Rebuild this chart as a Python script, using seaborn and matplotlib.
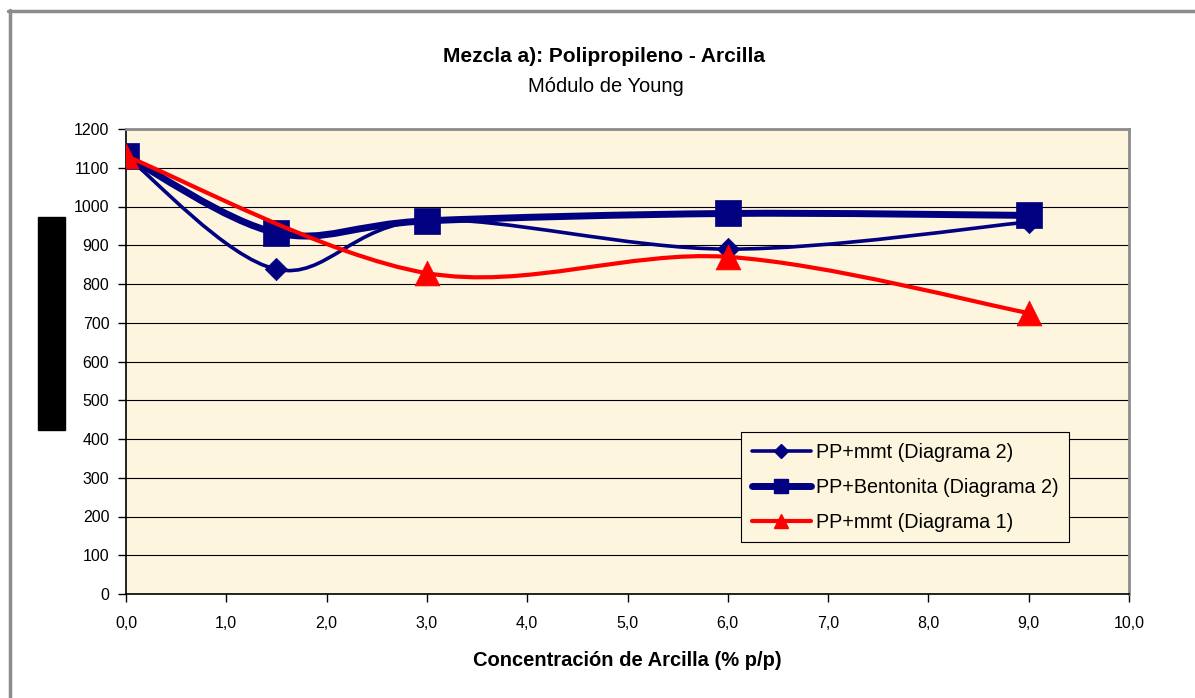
import matplotlib
matplotlib.use('Agg')

import matplotlib.pyplot as plt
import seaborn as sns
import pandas as pd
from matplotlib.path import Path
from matplotlib.patches import PathPatch, Rectangle
from matplotlib.lines import Line2D

# Data
x_mmt2 = [0.0, 1.5, 3.0, 6.0, 9.0]
y_mmt2 = [1130, 838, 965, 890, 960]

x_bent2 = [0.0, 1.5, 3.0, 6.0, 9.0]
y_bent2 = [1130, 932, 963, 982, 977]

x_mmt1 = [0.0, 3.0, 6.0, 9.0]
y_mmt1 = [1130, 828, 870, 725]

labels = ["PP+mmt (Diagrama 2)", "PP+Bentonita (Diagrama 2)", "PP+mmt (Diagrama 1)"]
x_ticks = [0, 1, 2, 3, 4, 5, 6, 7, 8, 9, 10]
x_ticklabels = ["0,0", "1,0", "2,0", "3,0", "4,0", "5,0", "6,0", "7,0", "8,0", "9,0", "10,0"]
y_ticks = list(range(0, 1300, 100))

navy = "#000080"
red = "#FF0000"
bg = "#FDF5DE"

sns.set_style("white")
plt.rcParams['font.family'] = ['Liberation Sans', 'DejaVu Sans']
plt.rcParams['text.color'] = 'black'
plt.rcParams['axes.labelcolor'] = 'black'


def smooth_path(xs, ys):
    # Excel-style smoothed line: cubic Bezier segments through the points
    pts = list(zip(xs, ys))
    verts = [pts[0]]
    codes = [Path.MOVETO]
    n = len(pts)
    for i in range(n - 1):
        p0 = pts[i - 1] if i > 0 else pts[i]
        p1 = pts[i]
        p2 = pts[i + 1]
        p3 = pts[i + 2] if i + 2 < n else pts[i + 1]
        c1 = (p1[0] + (p2[0] - p0[0]) / 6, p1[1] + (p2[1] - p0[1]) / 6)
        c2 = (p2[0] - (p3[0] - p1[0]) / 6, p2[1] - (p3[1] - p1[1]) / 6)
        verts += [c1, c2, p2]
        codes += [Path.CURVE4] * 3
    return Path(verts, codes)


fig = plt.figure(figsize=(11.95, 6.98), dpi=100)
ax = fig.add_axes([126 / 1195, 1 - 594 / 698, 1003 / 1195, 465 / 698])
ax.set_facecolor(bg)

series = [
    (x_mmt2, y_mmt2, navy, 2.6, "D", 130),
    (x_bent2, y_bent2, navy, 5.0, "s", 370),
    (x_mmt1, y_mmt1, red, 3.0, "^", 320),
]

for i, (xs, ys, col, lw, mk, ms) in enumerate(series):
    ax.add_patch(PathPatch(smooth_path(xs, ys), fill=False, edgecolor=col,
                           lw=lw, zorder=3 + 2 * i, capstyle='round', joinstyle='round'))
    df = pd.DataFrame({"x": xs, "y": ys})
    sns.scatterplot(data=df, x="x", y="y", ax=ax, color=col, marker=mk, s=ms,
                    edgecolor=col, linewidth=0.5, zorder=4 + 2 * i, legend=False)

ax.set_xlim(0, 10)
ax.set_ylim(0, 1200)
ax.set_xticks(x_ticks)
ax.set_xticklabels(x_ticklabels)
ax.set_yticks(y_ticks)
ax.yaxis.grid(True, color="black", lw=0.8)
ax.set_axisbelow(True)
ax.tick_params(axis="both", direction="out", length=6, width=1, color="black",
               labelsize=11.5, labelcolor="black")
ax.tick_params(axis="y", pad=6, left=True)
ax.tick_params(axis="x", pad=10, bottom=True)

for side in ["left", "bottom"]:
    ax.spines[side].set_color("black")
    ax.spines[side].set_linewidth(1.2)
for side in ["top", "right"]:
    ax.spines[side].set_color("#8C8C8C")
    ax.spines[side].set_linewidth(2)

ax.set_xlabel("Concentración de Arcilla (% p/p)", fontsize=14.5, fontweight="bold",
              labelpad=14, color="black")
ax.set_ylabel("")

handles = [
    Line2D([], [], color=navy, lw=2.6, marker="D", markersize=7),
    Line2D([], [], color=navy, lw=5.0, marker="s", markersize=10),
    Line2D([], [], color=red, lw=3.0, marker="^", markersize=10),
]
leg = ax.legend(handles, labels, loc="upper left", bbox_to_anchor=(0.613, 0.348),
                borderaxespad=0, fontsize=14.2, frameon=True, fancybox=False,
                edgecolor="black", facecolor=bg, framealpha=1, handlelength=3.0,
                handletextpad=0.25, labelspacing=0.8, borderpad=0.55, labelcolor="black")
leg.get_frame().set_linewidth(0.8)
leg.set_zorder(20)

fig.text(604 / 1195, 1 - 57 / 698, "Mezcla a): Polipropileno - Arcilla", ha="center",
         va="center", fontsize=15, fontweight="bold", color="black")
fig.text(606 / 1195, 1 - 87 / 698, "Módulo de Young", ha="center", va="center",
         fontsize=14.5, color="black")

# obscured y-axis label block
fig.patches.append(Rectangle((38 / 1195, 1 - 430 / 698), 27 / 1195, 213 / 698,
                             transform=fig.transFigure, color="black"))

# outer chart frame
fig.add_artist(Line2D([9.5 / 1195, 9.5 / 1195], [0, 1 - 10 / 698], color="#8C8C8C",
                      lw=2.5, transform=fig.transFigure))
fig.add_artist(Line2D([8 / 1195, 1], [1 - 11 / 698, 1 - 11 / 698], color="#8C8C8C",
                      lw=2.5, transform=fig.transFigure))

plt.savefig("out.png", dpi=100)
